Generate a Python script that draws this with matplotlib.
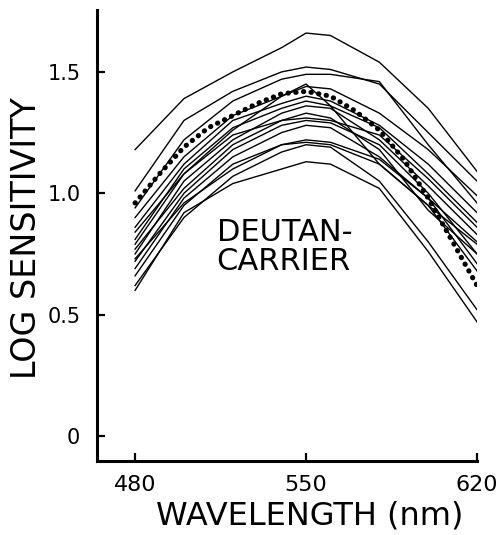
import matplotlib
matplotlib.use("Agg")
import matplotlib.pyplot as plt

# wavelengths (nm) at which each subject was measured
wavelengths = [480, 500, 520, 540, 550, 560, 580, 600, 620]

# log sensitivity curves of the individual deutan carriers
subjects = [
    [1.18, 1.39, 1.50, 1.60, 1.66, 1.65, 1.54, 1.35, 1.09],
    [1.01, 1.30, 1.42, 1.50, 1.52, 1.51, 1.45, 1.25, 1.05],
    [0.94, 1.22, 1.38, 1.47, 1.49, 1.49, 1.46, 1.20, 0.96],
    [0.90, 1.15, 1.32, 1.40, 1.44, 1.43, 1.33, 1.18, 0.99],
    [0.86, 1.12, 1.30, 1.37, 1.40, 1.38, 1.28, 1.12, 0.92],
    [0.81, 1.10, 1.27, 1.35, 1.38, 1.36, 1.27, 1.08, 0.88],
    [0.79, 1.08, 1.26, 1.40, 1.45, 1.36, 1.12, 0.95, 0.79],
    [0.75, 1.05, 1.22, 1.33, 1.36, 1.35, 1.22, 1.03, 0.83],
    [0.72, 1.00, 1.18, 1.28, 1.30, 1.29, 1.20, 1.00, 0.75],
    [0.69, 0.98, 1.15, 1.25, 1.28, 1.27, 1.15, 0.98, 0.71],
    [0.66, 0.95, 1.12, 1.20, 1.21, 1.20, 1.12, 0.95, 0.68],
    [0.77, 1.02, 1.20, 1.30, 1.33, 1.31, 1.18, 0.93, 0.75],
    [0.84, 1.08, 1.24, 1.30, 1.31, 1.30, 1.24, 1.06, 0.86],
    [0.73, 0.96, 1.10, 1.20, 1.22, 1.21, 1.14, 0.98, 0.80],
    [0.62, 0.90, 1.07, 1.17, 1.20, 1.19, 1.05, 0.80, 0.52],
    [0.60, 0.92, 1.04, 1.10, 1.13, 1.12, 1.02, 0.76, 0.47],
]

# mean curve (dotted)
mean_wl = [480, 490, 500, 510, 520, 530, 540, 550, 560, 570, 580, 590, 600, 610, 620]
mean_sens = [0.96, 1.08, 1.19, 1.27, 1.32, 1.37, 1.41, 1.42, 1.40, 1.34, 1.26, 1.14, 0.98, 0.80, 0.62]

plt.rcParams['font.family'] = ['DejaVu Sans']

fig = plt.figure(figsize=(4.99, 5.35), dpi=100)
ax = fig.add_axes([0.1944, 0.1383, 0.956 - 0.1944, 0.9813 - 0.1383])

for s in subjects:
    ax.plot(wavelengths, s, color='black', linewidth=1.0)

ax.plot(mean_wl, mean_sens, color='black', linewidth=3.7, linestyle=(0, (0.05, 1.45)),
        dash_capstyle='round')

ax.set_xlim(464.4, 620)
ax.set_ylim(-0.103, 1.755)

ax.set_xticks([480, 550, 620])
ax.set_yticks([0, 0.5, 1.0, 1.5])
ax.set_yticklabels(['0', '0.5', '1.0', '1.5'])
ax.tick_params(axis='both', direction='in', length=6, width=1.6, pad=12)
ax.tick_params(axis='x', labelsize=16, pad=10)
ax.tick_params(axis='y', labelsize=15)

for side in ['top', 'right']:
    ax.spines[side].set_visible(False)
for side in ['left', 'bottom']:
    ax.spines[side].set_linewidth(2.2)

fig.text(310 / 499, 1 - 516 / 535, 'WAVELENGTH (nm)', fontsize=23,
         ha='center', va='center')
fig.text(27 / 499, 1 - 238 / 535, 'LOG SENSITIVITY', fontsize=24,
         ha='center', va='center', rotation=90)

ax.text(0.315, 0.474, 'DEUTAN-\nCARRIER', transform=ax.transAxes, fontsize=22,
        ha='left', va='center', linespacing=1.0)

fig.savefig('out.png', dpi=100)
